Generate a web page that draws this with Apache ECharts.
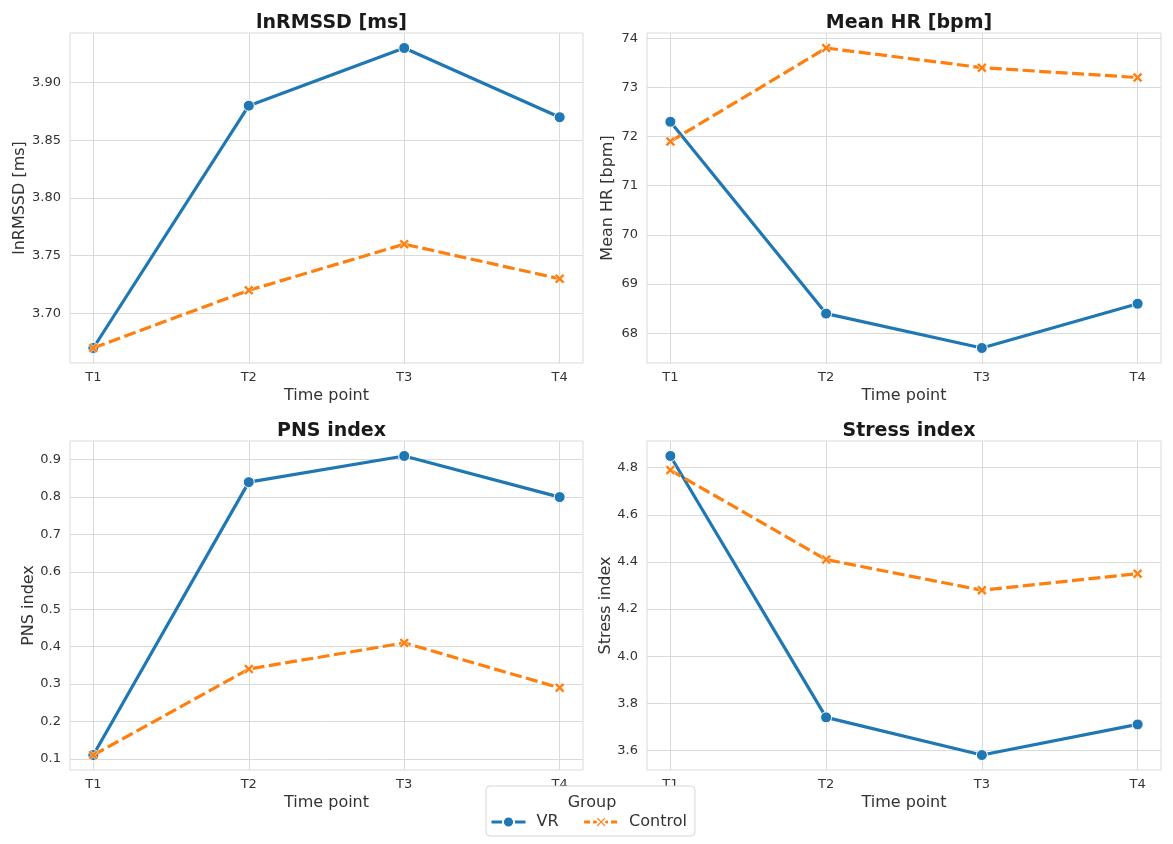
<!DOCTYPE html>
<html>
<head>
<meta charset="utf-8">
<script src="https://cdn.jsdelivr.net/npm/echarts@6/dist/echarts.min.js"></script>
<style>
html, body { margin: 0; padding: 0; background: #fff; }
#chart { width: 1173px; height: 844px; }
</style>
</head>
<body>
<div id="chart"></div>
<script>
const timePoints = ['T1', 'T2', 'T3', 'T4'];
const groups = ['VR', 'Control'];

const rmssdVR = [3.67, 3.88, 3.93, 3.87];
const rmssdControl = [3.67, 3.72, 3.76, 3.73];
const hrVR = [72.3, 68.4, 67.7, 68.6];
const hrControl = [71.9, 73.8, 73.4, 73.2];
const pnsVR = [0.11, 0.84, 0.91, 0.80];
const pnsControl = [0.11, 0.34, 0.41, 0.29];
const stressVR = [4.85, 3.74, 3.58, 3.71];
const stressControl = [4.79, 4.41, 4.28, 4.35];

const rmssdTicks = [3.70, 3.75, 3.80, 3.85, 3.90];
const hrTicks = [68, 69, 70, 71, 72, 73, 74];
const pnsTicks = [0.1, 0.2, 0.3, 0.4, 0.5, 0.6, 0.7, 0.8, 0.9];
const stressTicks = [3.6, 3.8, 4.0, 4.2, 4.4, 4.6, 4.8];

const blue = '#1f77b4';
const orange = '#ff7f0e';
const gridColor = '#dadada';
const textColor = '#333333';
const font = 'DejaVu Sans';
const xMark = 'path://M0,2 L2,0 L5,3 L8,0 L10,2 L7,5 L10,8 L8,10 L5,7 L2,10 L0,8 L3,5 Z';

// one entry per subplot
const panels = [
  { title: 'lnRMSSD [ms]', vr: rmssdVR, ctrl: rmssdControl, ticks: rmssdTicks, dec: 2,
    grid: { left: 70, top: 33, width: 513, height: 330 }, nameGap: 41 },
  { title: 'Mean HR [bpm]', vr: hrVR, ctrl: hrControl, ticks: hrTicks, dec: 0,
    grid: { left: 647, top: 33, width: 514, height: 330 }, nameGap: 31 },
  { title: 'PNS index', vr: pnsVR, ctrl: pnsControl, ticks: pnsTicks, dec: 1,
    grid: { left: 70, top: 441, width: 513, height: 329 }, nameGap: 33 },
  { title: 'Stress index', vr: stressVR, ctrl: stressControl, ticks: stressTicks, dec: 1,
    grid: { left: 647, top: 441, width: 514, height: 329 }, nameGap: 33 }
];

const toPairs = (arr) => arr.map((v, i) => [i, v]);

let grids = [], xAxes = [], yAxes = [], series = [], titles = [];

panels.forEach((p, k) => {
  grids.push(Object.assign({ show: true, borderColor: gridColor, borderWidth: 1, backgroundColor: '#fff' }, p.grid));

  const all = p.vr.concat(p.ctrl);
  const lo = Math.min(...all), hi = Math.max(...all);
  const pad = (hi - lo) * 0.05;

  xAxes.push({
    type: 'value', gridIndex: k, min: -0.15, max: 3.15,
    name: 'Time point', nameLocation: 'middle', nameGap: 25,
    nameTextStyle: { fontFamily: font, fontSize: 16, color: textColor },
    axisLine: { show: false },
    axisTick: { show: false, customValues: [0, 1, 2, 3] },
    axisLabel: { customValues: [0, 1, 2, 3], formatter: (v) => timePoints[Math.round(v)],
      fontFamily: font, fontSize: 13, color: textColor, margin: 8 },
    splitLine: { show: true, lineStyle: { color: gridColor, width: 1 } }
  });

  yAxes.push({
    type: 'value', gridIndex: k, min: lo - pad, max: hi + pad,
    name: p.title, nameLocation: 'middle', nameGap: p.nameGap,
    nameTextStyle: { fontFamily: font, fontSize: 16, color: textColor },
    axisLine: { show: false },
    axisTick: { show: false, customValues: p.ticks },
    axisLabel: { customValues: p.ticks, formatter: (v) => v.toFixed(p.dec),
      fontFamily: font, fontSize: 13, color: textColor, margin: 9 },
    splitLine: { show: true, lineStyle: { color: gridColor, width: 1 } }
  });

  titles.push({
    text: p.title, left: p.grid.left + p.grid.width / 2, textAlign: 'center',
    top: p.grid.top - 24,
    textStyle: { fontFamily: font, fontSize: 19, fontWeight: 'bold', color: '#1a1a1a' }
  });

  series.push({
    name: 'VR', type: 'line', xAxisIndex: k, yAxisIndex: k,
    data: toPairs(p.vr),
    symbol: 'circle', symbolSize: 11,
    itemStyle: { color: blue, borderColor: '#fff', borderWidth: 1 },
    lineStyle: { color: blue, width: 3.2 },
    z: 3
  });
  series.push({
    name: 'Control', type: 'line', xAxisIndex: k, yAxisIndex: k,
    data: toPairs(p.ctrl),
    symbol: xMark, symbolSize: 10,
    itemStyle: { color: orange, borderColor: '#fff', borderWidth: 0.6 },
    lineStyle: { color: orange, width: 3.2, type: [12, 4.5] },
    z: 4
  });
});

titles.push({
  text: 'Group', left: 587, textAlign: 'center', top: 790,
  textStyle: { fontFamily: font, fontSize: 16, fontWeight: 'normal', color: textColor }
});

const option = {
  backgroundColor: '#fff',
  animation: false,
  title: titles,
  legend: {
    data: [
      { name: groups[0], lineStyle: { width: 3 } },
      { name: groups[1], lineStyle: { width: 3, type: [6, 3] } }
    ],
    left: 486, top: 786,
    padding: [28, 8, 6, 4],
    itemWidth: 34, itemHeight: 14, itemGap: 24,
    backgroundColor: '#fff',
    borderColor: '#d6d6d6', borderWidth: 1, borderRadius: 4,
    textStyle: { fontFamily: font, fontSize: 16, color: textColor, padding: [0, 0, 0, 6] }
  },
  grid: grids,
  xAxis: xAxes,
  yAxis: yAxes,
  series: series
};

const myChart = echarts.init(document.getElementById('chart'));
myChart.setOption(option);
</script>
</body>
</html>
